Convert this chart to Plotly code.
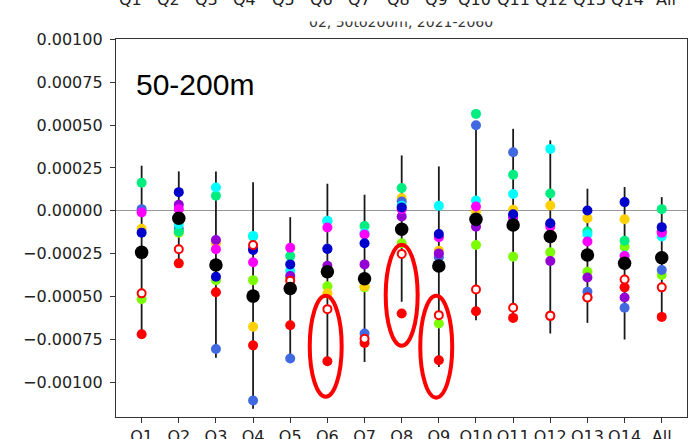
import plotly.graph_objects as go

# Quarters along the x axis
quarters = ["Q1", "Q2", "Q3", "Q4", "Q5", "Q6", "Q7", "Q8", "Q9", "Q10",
            "Q11", "Q12", "Q13", "Q14", "All"]

# Ensemble member values per quarter
springgreen = [0.000164, -0.00012, 0.000088, -0.00015, -0.000263, -0.00006, -0.000088,
               0.000133, -0.00015, 0.000565, 0.00021, 0.000101, -0.000121, -0.000174, 0.00001]
royalblue = [0.00001, -0.000105, -0.000805, -0.001105, -0.000861, -0.00022, -0.000715,
             0.000054, -0.00027, 0.000499, 0.000341, -0.00008, -0.000472, -0.000565, -0.000345]
mediumblue = [-0.000127, 0.000109, -0.000384, -0.000228, -0.000312, -0.000222, -0.000189,
              0.00002, -0.000135, -0.00006, -0.00002, -0.000072, 0.000002, 0.000051, -0.000095]
magenta = [-0.00001, 0.00001, -0.000224, -0.0003, -0.000215, -0.000097, -0.000138,
           0.00001, -0.000154, 0.000025, -0.000029, -0.000092, -0.000179, -0.000263, -0.000127]
darkviolet = [-0.00024, 0.000035, -0.00017, -0.00022, -0.00038, -0.00032, -0.000312,
              -0.000033, -0.000248, -0.000092, -0.00004, -0.000292, -0.000388, -0.000505, -0.00012]
cyan = [-0.00025, -0.000076, 0.000136, -0.000146, -0.000351, -0.000058, -0.00013,
        0.00003, 0.000029, 0.00006, 0.000098, 0.000361, -0.000136, -0.00026, -0.00015]
gold = [-0.000105, -0.00012, -0.00019, -0.000676, -0.00039, -0.000481, -0.00044,
        0.000074, -0.000232, -0.000004, 0.000006, 0.000031, -0.000043, -0.000049, -0.00014]
lawngreen = [-0.000515, -0.000127, -0.000404, -0.000404, -0.0004, -0.000439, -0.000446,
             -0.000189, -0.000657, -0.000199, -0.000267, -0.000242, -0.000355, -0.000209, -0.000374]
red = [-0.000719, -0.000306, -0.000474, -0.000784, -0.000667, -0.000877, -0.00077,
       -0.000598, -0.000871, -0.000585, -0.000624, -0.000612, -0.000505, -0.000446, -0.000618]
red_open = [-0.000481, -0.000224, None, -0.000199, -0.000408, -0.000573, -0.000745,
            -0.000251, -0.000608, -0.000458, -0.000565, -0.000612, -0.000505, -0.0004, -0.000446]
ens_mean = [-0.000242, -0.000043, -0.000316, -0.000497, -0.000452, -0.000355, -0.000396,
            -0.000107, -0.000322, -0.000049, -0.000082, -0.00015, -0.000257, -0.000306, -0.000273]

# Spread whiskers
whisker_hi = [0.000263, 0.00023, 0.00023, 0.000166, -0.000037, 0.000158, 0.000094,
              0.000323, 0.000259, 0.0005, 0.000478, 0.000411, 0.000129, 0.000139, 0.00008]
whisker_lo = [-0.00072, -0.00031, -0.000856, -0.001154, -0.00087, -0.00088, -0.000881,
              -0.00053, -0.00091, -0.000637, -0.00063, -0.000715, -0.000653, -0.00075, -0.00062]

# Y tick values and labels
y_ticks = [0.001, 0.00075, 0.0005, 0.00025, 0.0, -0.00025, -0.0005, -0.00075, -0.001]
y_tick_text = ["0.00100", "0.00075", "0.00050", "0.00025", "0.00000",
               "\u22120.00025", "\u22120.00050", "\u22120.00075", "\u22120.00100"]

# Highlighted quarters: (center index, half width, y top, y bottom)
highlights = [(4.955, 0.43, -0.000495, -0.001083),
              (7.0, 0.43, -0.000198, -0.000786),
              (7.93, 0.43, -0.000495, -0.001089)]

W, H = 695, 439
L, R, T, B = 116, 8, 39, 22
PW, PH = W - L - R, H - T - B


def px_x(px):
    return (px - L) / PW


def px_y(py):
    return (H - B - py) / PH


xs = list(range(len(quarters)))
fig = go.Figure()

# whiskers
wx, wy = [], []
for i, (lo, hi) in enumerate(zip(whisker_lo, whisker_hi)):
    wx += [i, i, None]
    wy += [lo, hi, None]
fig.add_trace(go.Scatter(x=wx, y=wy, mode="lines",
                         line=dict(color="#1a1a1a", width=1.8), hoverinfo="skip"))

members = [
    (lawngreen, "#7CFC00"),
    (gold, "#FFD000"),
    (royalblue, "#4169E1"),
    (springgreen, "#00EE80"),
    (cyan, "#00FFFF"),
    (darkviolet, "#9400D3"),
    (magenta, "#FF00FF"),
    (mediumblue, "#0000CD"),
    (red, "#FF0000"),
]
for vals, col in members:
    fig.add_trace(go.Scatter(x=xs, y=vals, mode="markers",
                             marker=dict(size=10, color=col, line=dict(width=0))))

fig.add_trace(go.Scatter(x=xs, y=red_open, mode="markers",
                         marker=dict(size=8, color="white",
                                     line=dict(color="#FF0000", width=2))))
fig.add_trace(go.Scatter(x=xs, y=ens_mean, mode="markers",
                         marker=dict(size=13.5, color="black", line=dict(width=0))))

shapes = []
for cx, hw, ytop, ybot in highlights:
    shapes.append(dict(type="circle", xref="x", yref="y",
                       x0=cx - hw, x1=cx + hw, y0=ybot, y1=ytop,
                       line=dict(color="#FF0000", width=4), layer="above"))

annotations = [
    dict(text="50-200m", xref="paper", yref="paper", x=px_x(134), y=px_y(84),
         xanchor="left", yanchor="middle", showarrow=False,
         font=dict(family="Liberation Sans, Arial", size=30, color="black")),
    dict(text="02, 50to200m, 2021-2060", xref="paper", yref="paper",
         x=px_x(401), y=px_y(22), xanchor="center", yanchor="middle", showarrow=False,
         font=dict(family="DejaVu Sans", size=14, color="#333333")),
    # white strip from the panel above
    dict(text=" ", xref="paper", yref="paper", x=px_x(W / 2), y=px_y(10.5),
         xanchor="center", yanchor="middle", showarrow=False,
         width=W + 4, height=21, bgcolor="white", borderpad=0),
]
# tick labels of the panel above, clipped by the page edge
for i, q in enumerate(quarters):
    annotations.append(dict(text=q, xref="paper", yref="paper",
                            x=px_x(130 + i * 38.3), y=px_y(-1),
                            xanchor="center", yanchor="middle", showarrow=False,
                            font=dict(family="DejaVu Sans", size=16, color="#222222")))

fig.update_layout(
    width=W, height=H,
    margin=dict(l=L, r=R, t=T, b=B, pad=0, autoexpand=False),
    paper_bgcolor="white", plot_bgcolor="white",
    showlegend=False,
    shapes=shapes,
    annotations=annotations,
    xaxis=dict(range=[-0.69, 14.68], tickmode="array", tickvals=xs, ticktext=quarters,
               automargin=False,
               showgrid=False, zeroline=False, showline=True, mirror=True,
               linecolor="#333333", linewidth=1.3, ticks="outside", ticklen=5,
               tickcolor="#333333", tickwidth=1.2,
               tickfont=dict(family="DejaVu Sans", size=16, color="#222222")),
    yaxis=dict(range=[-0.0012015, 0.0010015], tickmode="array", tickvals=y_ticks,
               ticktext=y_tick_text, showgrid=False, automargin=False,
               zeroline=True, zerolinecolor="#999999", zerolinewidth=1.3,
               showline=True, mirror=True, linecolor="#333333", linewidth=1.3,
               ticks="outside", ticklen=5, tickcolor="#333333", tickwidth=1.2,
               ticklabelstandoff=4,
               tickfont=dict(family="DejaVu Sans", size=16, color="#222222")),
)

fig.write_html("out.html")
